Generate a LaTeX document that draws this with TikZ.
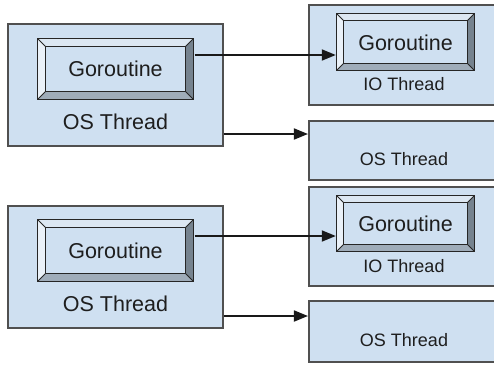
\documentclass[tikz,border=0pt]{standalone}
\usepackage{fontspec}
\setmainfont{Liberation Sans}
\usetikzlibrary{arrows.meta,calc}
\definecolor{boxblue}{HTML}{CFE0F1}
\definecolor{boxline}{HTML}{505050}
\definecolor{bevtop}{HTML}{DCE7F2}
\definecolor{bevleft}{HTML}{EAF1F8}
\definecolor{bevbot}{HTML}{9FACB9}
\definecolor{bevright}{HTML}{76838F}
\definecolor{txt}{HTML}{1E1E1E}
\newcommand{\bevelbox}[2]{% #1 node name, #2 bevel size
  \coordinate (#1-inw) at ([shift={(#2,-#2)}]#1.north west);
  \coordinate (#1-ine) at ([shift={(-#2,-#2)}]#1.north east);
  \coordinate (#1-isw) at ([shift={(#2,#2)}]#1.south west);
  \coordinate (#1-ise) at ([shift={(-#2,#2)}]#1.south east);
  \fill[bevtop] (#1.north west) -- (#1.north east) -- (#1-ine) -- (#1-inw) -- cycle;
  \fill[bevleft] (#1.north west) -- (#1-inw) -- (#1-isw) -- (#1.south west) -- cycle;
  \fill[bevbot] (#1.south west) -- (#1-isw) -- (#1-ise) -- (#1.south east) -- cycle;
  \fill[bevright] (#1.north east) -- (#1.south east) -- (#1-ise) -- (#1-ine) -- cycle;
  \fill[boxblue] (#1-inw) rectangle (#1-ise);
  \draw[bevedge] (#1.north west) rectangle (#1.south east);
  \draw[bevedge] (#1-inw) rectangle (#1-ise);
  \draw[bevedge] (#1.north west) -- (#1-inw) (#1.north east) -- (#1-ine)
                 (#1.south west) -- (#1-isw) (#1.south east) -- (#1-ise);
}
\begin{document}
\begin{tikzpicture}[x=1pt,y=-1pt,
  thread/.style={draw=boxline, fill=boxblue, line width=1.1pt, inner sep=0pt, rectangle},
  bevel/.style={inner sep=0pt, rectangle, text=txt, font=\fontsize{21}{24}\selectfont},
  bevedge/.style={draw=black!85, line width=1pt, line join=miter},
  biglbl/.style={text=txt, inner sep=0pt, font=\fontsize{21.5}{24}\selectfont},
  smalllbl/.style={text=txt, inner sep=0pt, font=\fontsize{18}{21}\selectfont},
  arr/.style={draw=black!90, line width=1.8pt, -{Triangle[length=14pt,width=11pt]}}]
\useasboundingbox (0,0) rectangle (494,364);
\clip (0,0) rectangle (494,364);
\fill[white] (0,0) rectangle (494,364);

% top group
\node[thread, minimum width=215pt, minimum height=122pt] (tl1) at (115.5,85) {};
\node[bevel, minimum width=155pt, minimum height=60pt] (gl1) at (115.5,69) {};
\bevelbox{gl1}{7.5pt}
\node[biglbl] (gt1) at (115.5,69) {Goroutine};
\node[biglbl] (ol1) at (115.5,122) {OS Thread};

\node[thread, minimum width=211pt, minimum height=100pt] (tr1) at (414.5,55) {};
\node[bevel, minimum width=137pt, minimum height=56pt] (gr1) at (405.5,42) {};
\bevelbox{gr1}{7pt}
\node[biglbl] (gtr1) at (405.5,43) {Goroutine};
\node[smalllbl] (io1) at (404,84) {IO Thread};

\node[thread, minimum width=211pt, minimum height=59pt] (tr2) at (414.5,150.5) {};
\node[smalllbl] (os2) at (404,159) {OS Thread};

\draw[arr] ([shift={(1.5pt,14pt)}]gl1.east) -- ([shift={(-1pt,14pt)}]gl1.east -| gr1.west);
\draw[arr] ([yshift=-49pt]tl1.east) -- ([shift={(-0.5pt,-49pt)}]tl1.east -| tr2.west);

% bottom group
\node[thread, minimum width=215pt, minimum height=122pt] (tl2) at (115.5,267) {};
\node[bevel, minimum width=155pt, minimum height=61pt] (gl2) at (115.5,250.5) {};
\bevelbox{gl2}{7.5pt}
\node[biglbl] (gt2) at (115.5,251) {Goroutine};
\node[biglbl] (ol2) at (115.5,304) {OS Thread};

\node[thread, minimum width=211pt, minimum height=99pt] (tr3) at (414.5,236.5) {};
\node[bevel, minimum width=137pt, minimum height=55pt] (gr3) at (405.5,223.5) {};
\bevelbox{gr3}{7pt}
\node[biglbl] (gtr3) at (405.5,224) {Goroutine};
\node[smalllbl] (io3) at (404,266) {IO Thread};

\node[thread, minimum width=211pt, minimum height=61pt] (tr4) at (414.5,331.5) {};
\node[smalllbl] (os4) at (404,340) {OS Thread};

\draw[arr] ([shift={(1.5pt,14.5pt)}]gl2.east) -- ([shift={(-1pt,14.5pt)}]gl2.east -| gr3.west);
\draw[arr] ([yshift=-49pt]tl2.east) -- ([shift={(-0.5pt,-49pt)}]tl2.east -| tr4.west);
\end{tikzpicture}
\end{document}
